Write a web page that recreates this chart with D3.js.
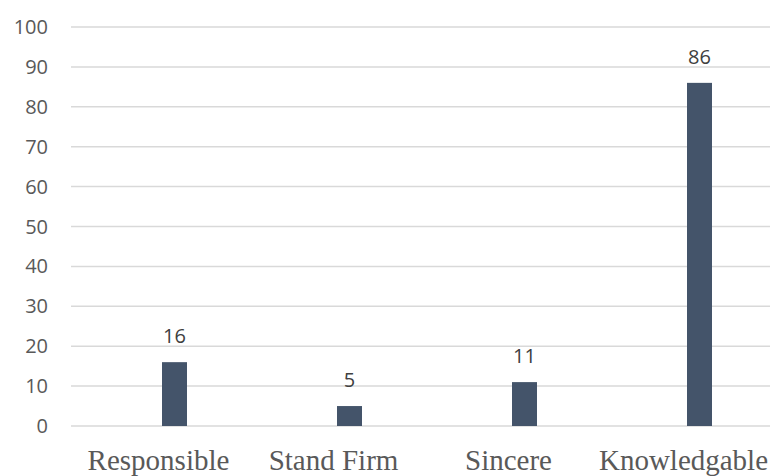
<!DOCTYPE html>
<html>
<head>
<meta charset="utf-8">
<script src="https://cdn.jsdelivr.net/npm/d3@7"></script>
<style>
  body { margin: 0; background: #fff; }
</style>
</head>
<body>
<script>
// chart data
var categories = ["Responsible", "Stand Firm", "Sincere", "Knowledgable"];
var values = [16, 5, 11, 86];
var yTicks = [0, 10, 20, 30, 40, 50, 60, 70, 80, 90, 100];

var width = 773, height = 476;
var margin = {top: 27, right: 2, bottom: 50, left: 71};

var svg = d3.select("body").append("svg")
    .attr("width", width)
    .attr("height", height);

var x = d3.scaleBand()
    .domain(categories)
    .range([margin.left, margin.left + 700])
    .paddingInner(0)
    .paddingOuter(0);

var y = d3.scaleLinear()
    .domain([0, 100])
    .range([height - margin.bottom, margin.top]);

var barWidth = 25, barShift = 16;

// gridlines
svg.append("g")
    .selectAll("line")
    .data(yTicks)
    .enter()
    .append("line")
    .attr("x1", margin.left)
    .attr("x2", width - 3)
    .attr("y1", function(d) { return y(d); })
    .attr("y2", function(d) { return y(d); })
    .attr("stroke", "#d9d9d9")
    .attr("stroke-width", 1.5);

// y tick labels
svg.append("g")
    .selectAll("text")
    .data(yTicks)
    .enter()
    .append("text")
    .attr("x", 48)
    .attr("y", function(d) { return y(d); })
    .attr("dy", "0.35em")
    .attr("text-anchor", "end")
    .attr("font-family", "'Open Sans', sans-serif")
    .attr("font-size", 20)
    .attr("fill", "#595959")
    .text(function(d) { return d; });

// bars
svg.append("g")
    .selectAll("rect")
    .data(values)
    .enter()
    .append("rect")
    .attr("x", function(d, i) { return x(categories[i]) + x.bandwidth() / 2 + barShift - barWidth / 2; })
    .attr("y", function(d) { return y(d); })
    .attr("width", barWidth)
    .attr("height", function(d) { return y(0) - y(d); })
    .attr("fill", "#44546a");

// data labels
svg.append("g")
    .selectAll("text")
    .data(values)
    .enter()
    .append("text")
    .attr("x", function(d, i) { return x(categories[i]) + x.bandwidth() / 2 + barShift; })
    .attr("y", function(d) { return y(d) - 19; })
    .attr("text-anchor", "middle")
    .attr("font-family", "'Open Sans', sans-serif")
    .attr("font-size", 20)
    .attr("fill", "#404040")
    .text(function(d) { return d; });

// category labels
svg.append("g")
    .selectAll("text")
    .data(categories)
    .enter()
    .append("text")
    .attr("x", function(d) { return x(d) + x.bandwidth() / 2; })
    .attr("y", 470)
    .attr("text-anchor", "middle")
    .attr("font-family", "'Liberation Serif', 'Times New Roman', serif")
    .attr("font-size", 29)
    .attr("fill", "#595959")
    .text(function(d) { return d; });
</script>
</body>
</html>
